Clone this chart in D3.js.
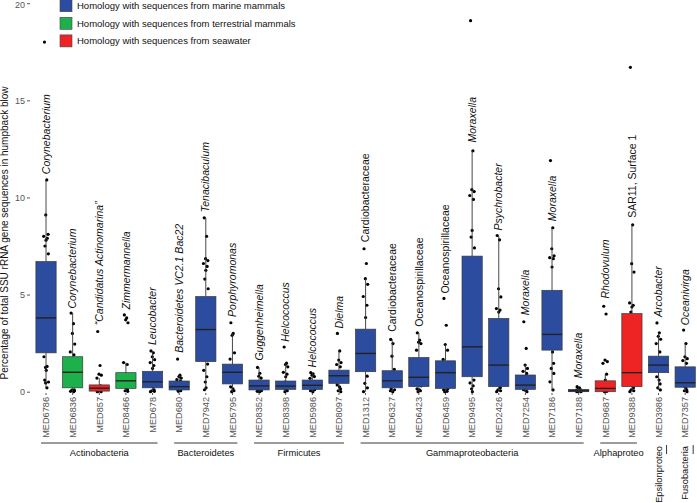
<!DOCTYPE html>
<html><head><meta charset="utf-8">
<script src="https://cdn.jsdelivr.net/npm/d3@7"></script>
<style>body{margin:0;background:#fff}svg{display:block;font-family:"Liberation Sans",Arial,sans-serif}</style>
</head><body><svg id="c" width="697" height="503"></svg>
<script>
const categories = ["MED6786","MED6836","MED857","MED8466","MED678","MED680","MED7942","MED5795","MED8352","MED8398","MED5986","MED8097","MED1312","MED6327","MED6423","MED6459","MED9495","MED2426","MED7254","MED7186","MED7188","MED9687","MED9388","MED3986","MED7357"];
const taxa = ["Corynebacterium","Corynebacterium","\u201CCandidatus Actinomarina\u201D","Zimmermannella","Leucobacter","Bacteroidetes VC2.1 Bac22","Tenacibaculum","Porphyromonas","Guggenheimella","Helcococcus","Helcococcus","Dielma","Cardiobacteraceae","Cardiobacteraceae","Oceanospirillaceae","Oceanospirillaceae","Moraxella","Psychrobacter","Moraxella","Moraxella","Moraxella","Rhodovulum","SAR11, Surface 1","Arcobacter","Oceanivirga"];
const taxonItalic = [1,1,1,1,1,1,1,1,1,1,1,1,0,0,0,0,1,1,1,1,1,1,0,1,1];
const habitat = ["marine","terrestrial","seawater","terrestrial","marine","marine","marine","marine","marine","marine","marine","marine","marine","marine","marine","marine","marine","marine","marine","marine","marine","seawater","seawater","marine","marine"];
const habitatKeys = ["marine","terrestrial","seawater"];
const habitatLabels = ["Homology with sequences from marine mammals","Homology with sequences from terrestrial mammals","Homology with sequences from seawater"];
const q1 =     [2.0,0.2,0.03,0.17,0.2,0.09,1.55,0.4,0.09,0.12,0.12,0.43,1.03,0.2,0.26,0.17,0.77,0.26,0.12,2.14,0.0,0.0,0.26,0.98,0.23];
const median = [3.8,1.0,0.18,0.56,0.51,0.26,3.2,1.0,0.3,0.29,0.33,0.82,1.97,0.56,0.74,0.98,2.31,1.37,0.34,2.95,0.05,0.17,0.98,1.37,0.46];
const q3 =     [6.7,1.8,0.35,0.98,1.05,0.55,4.9,1.42,0.6,0.55,0.6,1.11,3.22,1.08,1.76,1.59,6.98,3.77,0.86,5.22,0.12,0.56,4.02,1.83,1.28];
const whiskerLow =  [0.2,0,0,0,0,0,0.1,0,0,0,0,0,0,0,0,0,0,0,0,0.05,0,0,0,0.1,0];
const whiskerHigh = [10.9,4.05,0.7,1.5,2.1,0.85,8.95,3.0,1.25,1.47,0.98,2.1,5.82,2.69,3.03,2.43,12.4,8.04,1.37,8.44,0.26,0.9,8.59,3.03,2.48];
const labelAt = [11.2,4.28,3.42,4.23,2.4,2.0,9.24,3.85,1.6,2.57,1.25,3.25,7.7,3.08,3.34,5.05,12.83,8.3,3.94,8.78,0.69,4.8,8.95,3.85,3.42];
const points = [
 [18.0,10.9,9.1,8.1,8.0,7.9,7.8,7.5,7.1,6.0,5.2,4.4,3.3,2.6,1.8,1.3,1.25,1.1,0.6,0.5,0.45,0.2],
 [4.05,3.5,3.0,2.45,2.05,1.9,1.5,1.1,0.8,0.5,0.3,0.1,0.08,0.05,0.02,0.0],
 [3.1,1.35,0.9,0.85,0.7,0.3,0.25,0.2,0.15,0.1,0.08,0.05,0.03,0.0,0.0],
 [3.95,3.8,3.7,3.55,1.5,1.4,0.9,0.7,0.5,0.3,0.2,0.1,0.05,0.02],
 [2.1,2.0,1.8,1.65,1.5,1.35,1.2,0.9,0.6,0.4,0.25,0.1,0.05,0.02,0.0],
 [1.68,0.85,0.78,0.7,0.62,0.55,0.4,0.3,0.2,0.12,0.08,0.05,0.02],
 [8.95,8.0,6.85,6.75,6.6,6.45,6.25,5.8,5.3,4.2,3.5,2.8,2.2,1.42,1.1,0.77,0.5,0.2,0.1],
 [3.55,3.0,2.9,2.0,1.68,1.3,1.1,0.8,0.6,0.25,0.15,0.05,0.0],
 [1.25,0.95,0.8,0.7,0.5,0.3,0.2,0.1,0.05,0.02,0.0],
 [2.3,1.47,1.4,1.28,1.0,0.9,0.77,0.5,0.3,0.2,0.1,0.05,0.0],
 [0.98,0.92,0.85,0.78,0.69,0.5,0.35,0.2,0.1,0.05,0.0],
 [3.0,2.1,1.63,1.5,1.4,1.28,1.0,0.8,0.6,0.35,0.25,0.15,0.05,0.0],
 [7.36,6.6,5.82,5.53,4.9,4.45,3.82,2.8,2.3,1.8,1.4,0.8,0.43,0.2,0.0],
 [2.69,2.48,1.83,1.15,0.9,0.6,0.4,0.15,0.1,0.05,0.0],
 [3.03,2.65,2.55,2.48,2.14,1.5,1.0,0.6,0.3,0.15,0.1,0.05,0.0],
 [4.8,3.42,2.43,2.14,1.66,1.3,0.9,0.5,0.15,0.1,0.05,0.02,0.0],
 [19.1,12.4,10.4,10.3,10.1,9.9,8.3,7.96,7.4,6.0,4.5,3.0,1.5,0.6,0.45,0.3,0.15,0.0],
 [8.04,7.82,5.3,4.88,4.28,4.2,4.1,3.0,2.0,1.2,0.5,0.2,0.1,0.05,0.0],
 [3.6,2.23,1.37,1.2,1.05,0.94,0.7,0.4,0.2,0.1,0.05,0.0],
 [11.9,8.44,7.36,7.0,6.9,6.85,6.42,4.5,3.5,2.6,2.05,1.46,1.2,0.94,0.51,0.09],
 [0.26,0.2,0.15,0.1,0.08,0.05,0.03,0.02,0.0,0.0],
 [4.4,4.0,1.63,1.55,1.46,0.9,0.6,0.4,0.2,0.1,0.05,0.02,0.0],
 [16.7,8.59,6.59,6.16,4.57,4.45,4.36,4.1,3.0,2.0,1.0,0.2,0.1,0.05,0.0],
 [3.54,3.03,2.85,2.7,2.48,2.05,1.7,1.5,1.1,0.77,0.6,0.4,0.2,0.09],
 [3.17,2.48,1.8,1.7,1.6,1.46,1.1,0.7,0.4,0.3,0.2,0.1,0.05,0.0]
];
const groupNames = ["Actinobacteria","Bacteroidetes","Firmicutes","Gammaproteobacteria","Alphaproteo","Epsilonproteo","Fusobacteria"];
const groupFirst = ["MED6786","MED680","MED8352","MED1312","MED9687","MED3986","MED7357"];
const groupLast  = ["MED678","MED5795","MED8097","MED7188","MED9388","MED3986","MED7357"];
const yTicks = [0,5,10,15,20];

// ---- layout ----
const colors = {marine:"#2B4C9F", terrestrial:"#1DB14B", seawater:"#EE2424"};
const jit = [-0.6,0.3,-0.1,0.8,-0.9,0.5,0.0,-0.4,0.9,-0.7,0.2,0.6,-0.3,0.7,-0.8,0.4,-0.2,0.1,-0.5,0.95,-0.15,0.35];
const svg = d3.select("#c");
const x = d3.scaleBand().domain(categories).range([32.7, 698.5]).padding(0);
const y = d3.scaleLinear().domain([0,20]).range([391.7, 3.2]);
const bw = x.bandwidth()*0.76;
const cx = c => x(c) + x.bandwidth()/2;

// y axis
const yAxis = d3.axisLeft(y).tickValues(yTicks).tickSize(3).tickPadding(2);
const ga = svg.append("g").attr("transform","translate(30,0)").call(yAxis);
ga.select(".domain").remove();
ga.selectAll("text").attr("font-size",9).attr("fill","#555").attr("font-family","Liberation Sans, Arial");
ga.selectAll(".tick").filter(d=>d===20).select("text").attr("dy","0.5em");
ga.selectAll("line").attr("stroke","#555");

svg.append("text").attr("transform","translate(8,233) rotate(-90)").attr("text-anchor","middle")
  .attr("font-size",10).attr("fill","#111").text("Percentage of total SSU rRNA gene sequences in humpback blow");

// x axis labels
const xAxis = d3.axisBottom(x).tickSize(2).tickPadding(3);
const gx = svg.append("g").attr("transform","translate(0,393)").call(xAxis);
gx.select(".domain").remove();
gx.selectAll("line").attr("stroke","#555");
gx.selectAll("text").attr("font-size",9.2).attr("fill","#555").attr("font-family","Liberation Sans, Arial")
  .attr("text-anchor","end").attr("transform","rotate(-90)").attr("x",-4).attr("y",0).attr("dy","0.35em");

// points (drawn under boxes)
categories.forEach((c,i)=>{
  svg.append("g").selectAll("circle").data(points[i]).join("circle")
    .attr("cx",(d,k)=>cx(c)+jit[k%jit.length]*2.6)
    .attr("cy",d=>y(d)).attr("r",1.6).attr("fill","#000");
});

// whiskers + boxes
categories.forEach((c,i)=>{
  const g = svg.append("g");
  g.append("line").attr("x1",cx(c)).attr("x2",cx(c)).attr("y1",y(q3[i])).attr("y2",y(whiskerHigh[i])).attr("stroke","#333").attr("stroke-width",0.9);
  g.append("line").attr("x1",cx(c)).attr("x2",cx(c)).attr("y1",y(q1[i])).attr("y2",y(whiskerLow[i])).attr("stroke","#333").attr("stroke-width",0.9);
  g.append("rect").attr("x",cx(c)-bw/2).attr("width",bw).attr("y",y(q3[i])).attr("height",Math.max(0.8,y(q1[i])-y(q3[i])))
    .attr("fill",colors[habitat[i]]).attr("stroke","#3a3a3a").attr("stroke-width",0.7);
  g.append("line").attr("x1",cx(c)-bw/2).attr("x2",cx(c)+bw/2).attr("y1",y(median[i])).attr("y2",y(median[i])).attr("stroke","#222").attr("stroke-width",1.4);
});

// taxon labels
categories.forEach((c,i)=>{
  svg.append("text").attr("transform",`translate(${cx(c)},${y(labelAt[i])}) rotate(-90)`)
    .attr("dy","0.35em").attr("text-anchor","start").attr("font-size",10.5)
    .attr("font-style",taxonItalic[i]?"italic":"normal").attr("fill","#111").text(taxa[i]);
});

// group brackets
groupNames.forEach((n,i)=>{
  const a = cx(groupFirst[i]), b = cx(groupLast[i]);
  if (groupFirst[i]!==groupLast[i]) {
    svg.append("line").attr("x1",a-5).attr("x2",b+5).attr("y1",443).attr("y2",443).attr("stroke","#222").attr("stroke-width",0.9);
    svg.append("text").attr("x",(a+b)/2).attr("y",456).attr("text-anchor","middle").attr("font-size",9.3).attr("fill","#111").text(n);
  } else {
    svg.append("line").attr("x1",a+8).attr("x2",a+8).attr("y1",445).attr("y2",454).attr("stroke","#222").attr("stroke-width",0.9);
    svg.append("text").attr("transform",`translate(${a},446) rotate(-90)`).attr("dy","0.35em").attr("text-anchor","end")
      .attr("font-size",9.3).attr("fill","#111").text(n);
  }
});

// legend
habitatKeys.forEach((k,i)=>{
  const yy = 5.7 + i*17.6;
  svg.append("rect").attr("x",60).attr("y",yy-6).attr("width",12).attr("height",12).attr("fill",colors[k]).attr("stroke","#444").attr("stroke-width",0.6);
  svg.append("text").attr("x",77).attr("y",yy).attr("dy","0.35em").attr("font-size",9.5).attr("fill","#111").text(habitatLabels[i]);
});
</script></body></html>
